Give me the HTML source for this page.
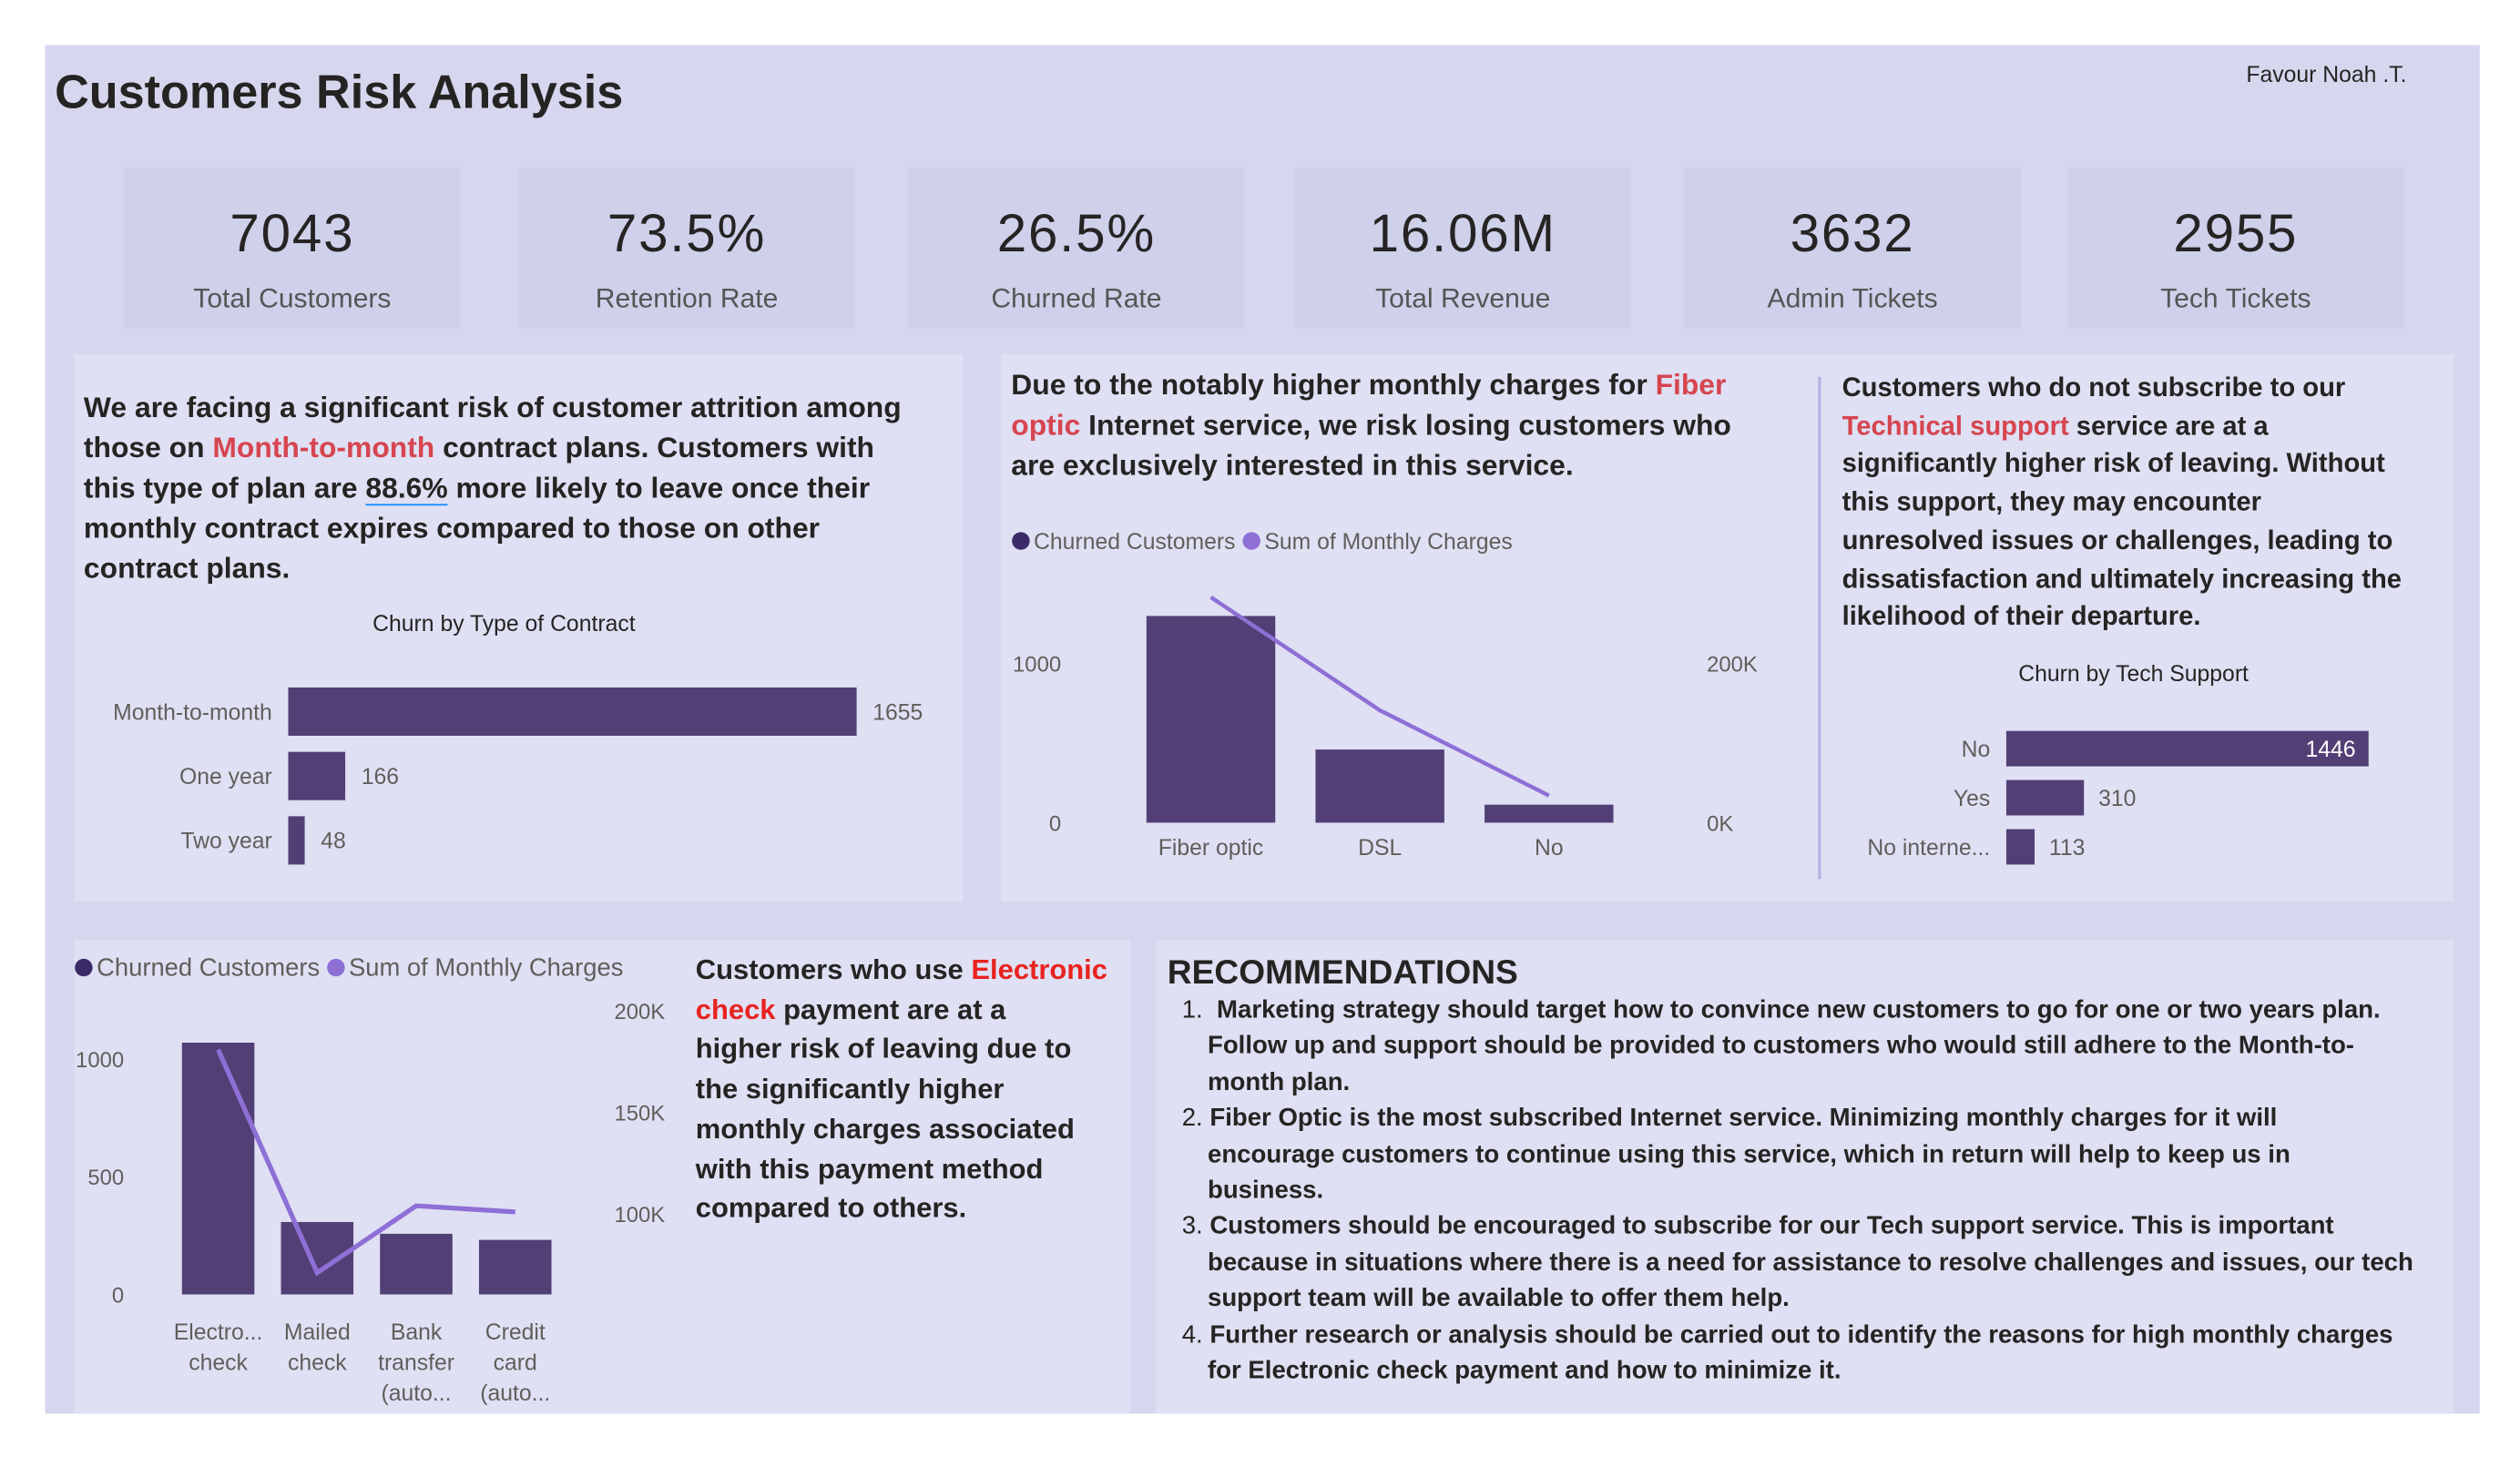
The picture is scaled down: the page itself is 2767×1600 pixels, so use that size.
<!DOCTYPE html>
<html><head><meta charset="utf-8">
<style>
html,body{margin:0;padding:0;background:#fff;width:2767px;height:1600px;overflow:hidden;font-family:"Liberation Sans",sans-serif;}
#wrap{position:absolute;left:0;top:0;width:1565px;height:905px;transform:scale(1.768);transform-origin:0 0;}
.abs{position:absolute;}
#dash{left:28px;top:28px;width:1512px;height:850px;background:#d6d7ee;}
.card{background:#cfd0ea;width:209px;height:100px;top:104px;text-align:center;}
.card .v{position:absolute;left:0;right:0;top:22px;font-size:33px;color:#252423;letter-spacing:1px;}
.card .l{position:absolute;left:0;right:0;top:72px;font-size:17px;color:#555;}
.panel{background:#dfe0f3;}
.txt{font-weight:bold;color:#252423;white-space:nowrap;}
.red{color:#d64550;}
.red2{color:#e8231f;}
svg text{font-family:"Liberation Sans",sans-serif;}
</style></head><body>
<div id="wrap">
<div class="abs" id="dash"></div>
<div class="abs txt" style="left:34px;top:41px;font-size:29.5px;">Customers Risk Analysis</div>
<div class="abs" style="left:1395px;top:38px;font-size:14px;color:#252423;">Favour Noah .T.</div>

<div class="abs card" style="left:77px"><div class="v">7043</div><div class="l">Total Customers</div></div>
<div class="abs card" style="left:322px"><div class="v">73.5%</div><div class="l">Retention Rate</div></div>
<div class="abs card" style="left:564px"><div class="v">26.5%</div><div class="l">Churned Rate</div></div>
<div class="abs card" style="left:804px"><div class="v">16.06M</div><div class="l">Total Revenue</div></div>
<div class="abs card" style="left:1046px"><div class="v">3632</div><div class="l">Admin Tickets</div></div>
<div class="abs card" style="left:1284px"><div class="v">2955</div><div class="l">Tech Tickets</div></div>

<div class="abs panel" style="left:46px;top:220px;width:552px;height:340px"></div>
<div class="abs panel" style="left:622px;top:220px;width:902px;height:340px"></div>
<div class="abs panel" style="left:46px;top:584px;width:656px;height:294px"></div>
<div class="abs panel" style="left:718px;top:584px;width:806px;height:294px"></div>

<div class="abs txt" style="left:52px;top:241px;font-size:18px;line-height:25px;">We are facing a significant risk of customer attrition among<br>those on <span class="red">Month-to-month</span> contract plans. Customers with<br>this type of plan are <span style="border-bottom:1.5px solid #118dff">88.6%</span> more likely to leave once their<br>monthly contract expires compared to those on other<br>contract plans.</div>

<div class="abs txt" style="left:628px;top:227px;font-size:18px;line-height:25px;">Due to the notably higher monthly charges for <span class="red">Fiber</span><br><span class="red">optic</span> Internet service, we risk losing customers who<br>are exclusively interested in this service.</div>

<div class="abs txt" style="left:1144px;top:230px;font-size:16.5px;line-height:23.7px;">Customers who do not subscribe to our<br><span class="red">Technical support</span> service are at a<br>significantly higher risk of leaving. Without<br>this support, they may encounter<br>unresolved issues or challenges, leading to<br>dissatisfaction and ultimately increasing the<br>likelihood of their departure.</div>

<div class="abs txt" style="left:432px;top:590px;font-size:17.5px;line-height:24.7px;">Customers who use <span class="red2">Electronic</span><br><span class="red2">check</span> payment are at a<br>higher risk of leaving due to<br>the significantly higher<br>monthly charges associated<br>with this payment method<br>compared to others.</div>

<div class="abs txt" style="left:725px;top:593px;font-size:21px;">RECOMMENDATIONS</div>
<div class="abs txt" style="left:734px;top:617px;font-size:15.6px;line-height:22.4px;">
<div><span style="font-weight:normal">1.</span>&nbsp; Marketing strategy should target how to convince new customers to go for one or two years plan.</div>
<div style="padding-left:16px">Follow up and support should be provided to customers who would still adhere to the Month-to-<br>month plan.</div>
<div><span style="font-weight:normal">2.</span> Fiber Optic is the most subscribed Internet service. Minimizing monthly charges for it will</div>
<div style="padding-left:16px">encourage customers to continue using this service, which in return will help to keep us in<br>business.</div>
<div><span style="font-weight:normal">3.</span> Customers should be encouraged to subscribe for our Tech support service. This is important</div>
<div style="padding-left:16px">because in situations where there is a need for assistance to resolve challenges and issues, our tech<br>support team will be available to offer them help.</div>
<div><span style="font-weight:normal">4.</span> Further research or analysis should be carried out to identify the reasons for high monthly charges</div>
<div style="padding-left:16px">for Electronic check payment and how to minimize it.</div>
</div>

<div class="abs" style="left:1129px;top:234px;width:2px;height:312px;background:#b9b4e6"></div>

<svg class="abs" id="charts" style="left:0;top:0" width="1565" height="905"></svg>
</div>
<script>
// Chart 1: churn by contract
const contractCats = ["Month-to-month","One year","Two year"];
const contractVals = [1655,166,48];
// Chart 2: internet service
const internetCats = ["Fiber optic","DSL","No"];
const internetChurn = [1297,459,113];
const internetCharges = [283000,141000,34000];
const internetLeftTicks = [0,1000];
const internetRightTicks = [0,200000];
// Chart 3: tech support
const techCats = ["No","Yes","No interne..."];
const techVals = [1446,310,113];
// Chart 4: payment method
const payCats = [["Electro...","check"],["Mailed","check"],["Bank","transfer","(auto..."],["Credit","card","(auto..."]];
const payChurn = [1071,308,258,232];
const payCharges = [181000,71000,104000,101000];
const payLeftTicks = [0,500,1000];
const payRightTicks = [100000,150000,200000];

const NS="http://www.w3.org/2000/svg";
const svg=document.getElementById('charts');
const BAR="#523f75", LINE="#8e6fd6", AX="#605e5c";
function mk(tag,attrs,parent){const e=document.createElementNS(NS,tag);for(const k in attrs)e.setAttribute(k,attrs[k]);(parent||svg).appendChild(e);return e;}
function txt(x,y,s,size,fill,anchor,weight){const t=mk('text',{x:x,y:y,'font-size':size,fill:fill,'text-anchor':anchor||'start','font-weight':weight||'normal'});t.textContent=s;return t;}

// Chart 1
let g1=mk('g',{});


let t=txt(313,392,"Churn by Type of Contract",14,"#252423","middle");


const c1x=v=>v*353/1655;
contractCats.forEach((c,i)=>{
  const y=427+i*40;
  const r=mk('rect',{x:179,y:y,width:c1x(contractVals[i]),height:30,fill:BAR},g1);
  
  
  txt(169,y+20,c,14,AX,"end");
  txt(179+c1x(contractVals[i])+10,y+20,String(contractVals[i]),14,AX,"start");
});

// Chart 2
let g2=mk('g',{});


function legend(x,y,fs){
  mk('circle',{cx:x+6,cy:y,r:5.5,fill:"#3b2a68"});
  const a=txt(x+14,y+5,"Churned Customers",fs,AX);
  const w=a.getComputedTextLength();
  mk('circle',{cx:x+14+w+10,cy:y,r:5.5,fill:LINE});
  txt(x+14+w+18,y+5,"Sum of Monthly Charges",fs,AX);
}
legend(628,336,14);
const y2=v=>511-v*99/1000;
const y2r=v=>511-v*99/200000;
internetLeftTicks.forEach(v=>txt(659,y2(v)+5,String(v),13.5,AX,"end"));
internetRightTicks.forEach(v=>txt(1060,y2r(v)+5,(v/1000)+"K",13.5,AX,"start"));
let pts2=[];
internetCats.forEach((c,i)=>{
  const cx=752+i*105;
  const r=mk('rect',{x:cx-40,y:y2(internetChurn[i]),width:80,height:511-y2(internetChurn[i]),fill:BAR},g2);
  
  
  txt(cx,531,c,14,AX,"middle");
  pts2.push(cx+','+y2r(internetCharges[i]));
});
let l2=mk('polyline',{points:pts2.join(' '),fill:'none',stroke:LINE,'stroke-width':2.5},g2);



// Chart 3
let g3=mk('g',{});


t=txt(1325,423,"Churn by Tech Support",14,"#252423","middle");


const c3x=v=>v*225/1446;
techCats.forEach((c,i)=>{
  const y=454+i*30.5;
  const w=c3x(techVals[i]);
  const r=mk('rect',{x:1246,y:y,width:w,height:22,fill:BAR},g3);
  
  
  txt(1236,y+16,c,14,AX,"end");
  if(i===0) txt(1246+w-8,y+16,String(techVals[i]),14,"#fff","end");
  else txt(1246+w+9,y+16,String(techVals[i]),14,AX,"start");
});

// Chart 4
let g4=mk('g',{});


legend(46,601,15.5);
const y4=v=>804-v*146/1000;
const y4r=v=>754-(v-100000)*63/50000;
payLeftTicks.forEach(v=>txt(77,y4(v)+5,String(v),13.5,AX,"end"));
payRightTicks.forEach(v=>txt(413,y4r(v)+5,(v/1000)+"K",13.5,AX,"end"));
let pts4=[];
payCats.forEach((c,i)=>{
  const cx=135.5+i*61.5;
  const r=mk('rect',{x:cx-22.5,y:y4(payChurn[i]),width:45,height:804-y4(payChurn[i]),fill:BAR},g4);
  
  
  c.forEach((s,j)=>txt(cx,832+j*19,s,14,AX,"middle"));
  pts4.push(cx+','+y4r(payCharges[i]));
});
let l4=mk('polyline',{points:pts4.join(' '),fill:'none',stroke:LINE,'stroke-width':3},g4);


</script>
</body></html>
